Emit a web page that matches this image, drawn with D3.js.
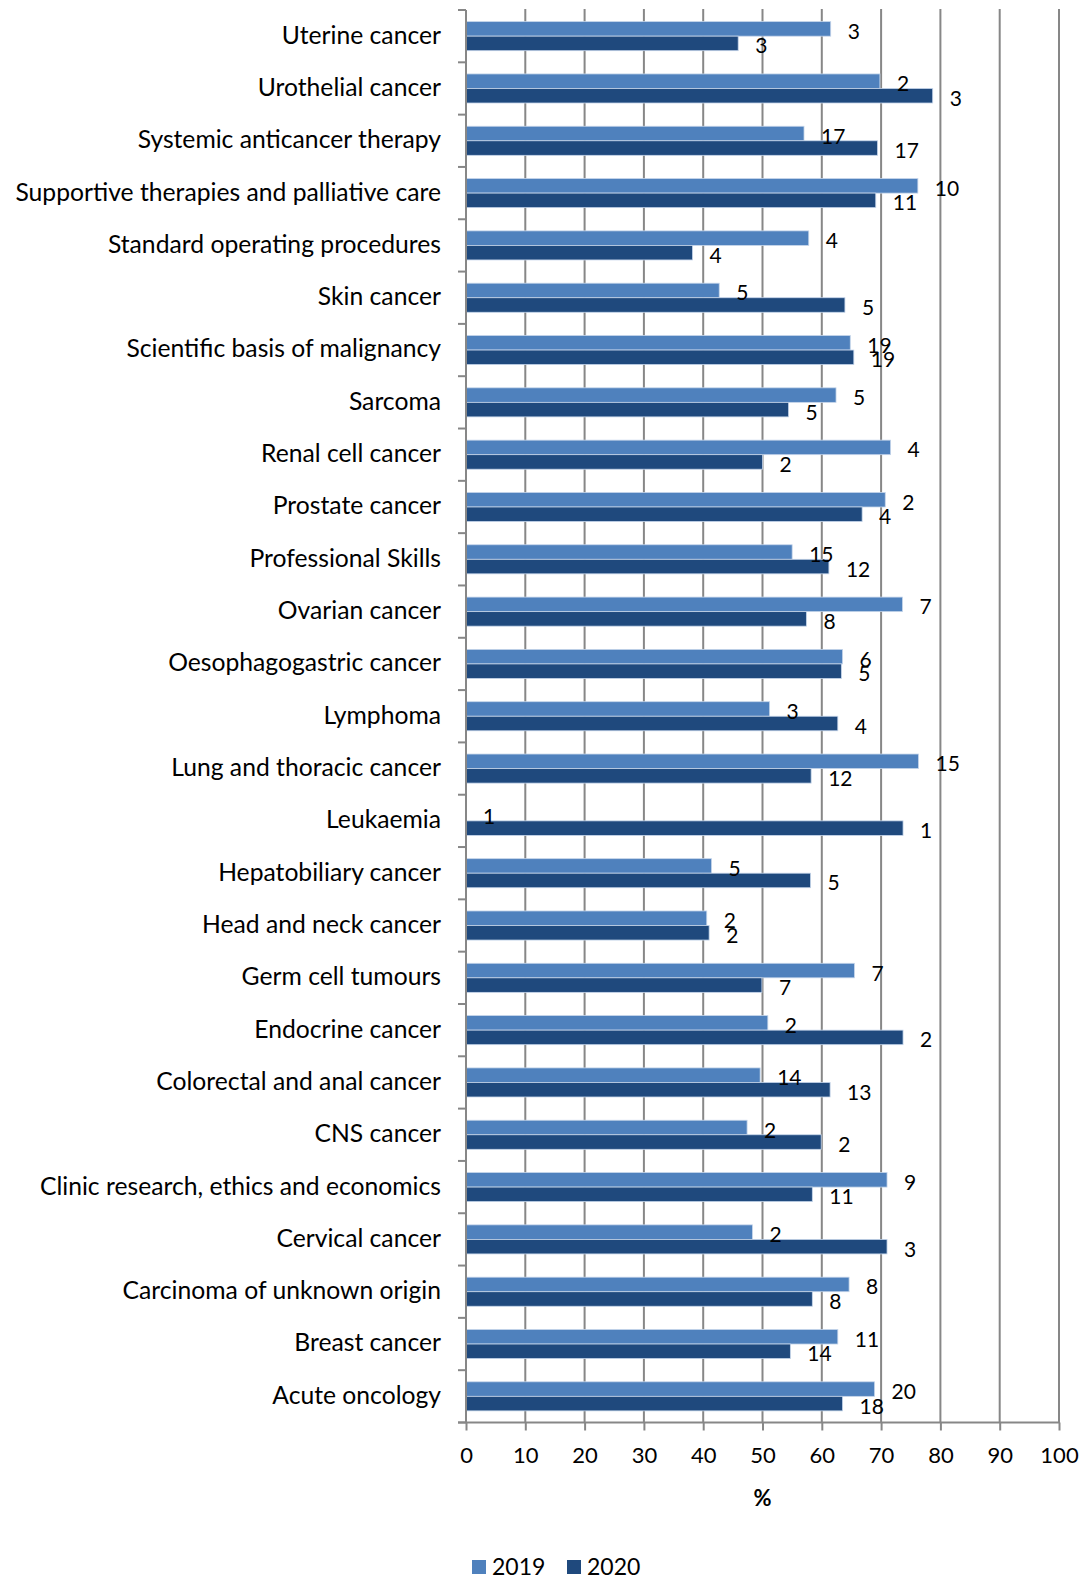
<!DOCTYPE html>
<html>
<head>
<meta charset="utf-8">
<script src="https://cdn.jsdelivr.net/npm/d3@7"></script>
<style>
  html, body { margin: 0; padding: 0; background: #fff; }
  svg { display: block; }
  text { font-family: Lato, "Open Sans", sans-serif; fill: #000; }
</style>
</head>
<body>
<svg id="chart" width="1086" height="1579"></svg>
<script>
const categories = [
  "Uterine cancer", "Urothelial cancer", "Systemic anticancer therapy",
  "Supportive therapies and palliative care", "Standard operating procedures",
  "Skin cancer", "Scientific basis of malignancy", "Sarcoma", "Renal cell cancer",
  "Prostate cancer", "Professional Skills", "Ovarian cancer", "Oesophagogastric cancer",
  "Lymphoma", "Lung and thoracic cancer", "Leukaemia", "Hepatobiliary cancer",
  "Head and neck cancer", "Germ cell tumours", "Endocrine cancer",
  "Colorectal and anal cancer", "CNS cancer", "Clinic research, ethics and economics",
  "Cervical cancer", "Carcinoma of unknown origin", "Breast cancer", "Acute oncology"
];
const seriesNames = ["2019", "2020"];
const values2019 = [61.5, 69.8, 57.0, 76.2, 57.8, 42.7, 64.8, 62.4, 71.6, 70.7, 55.0, 73.6, 63.5,
  51.2, 76.3, 0, 41.4, 40.6, 65.5, 50.9, 49.6, 47.4, 71.0, 48.3, 64.6, 62.7, 68.9];
const values2020 = [45.9, 78.7, 69.4, 69.1, 38.2, 63.9, 65.4, 54.4, 50.0, 66.8, 61.2, 57.4, 63.3,
  62.7, 58.2, 73.7, 58.1, 41.0, 49.9, 73.7, 61.4, 59.9, 58.4, 71.0, 58.4, 54.7, 63.5];
const labels2019 = [3, 2, 17, 10, 4, 5, 19, 5, 4, 2, 15, 7, 6, 3, 15, 1, 5, 2, 7, 2, 14, 2, 9, 2, 8, 11, 20];
const labels2020 = [3, 3, 17, 11, 4, 5, 19, 5, 2, 4, 12, 8, 5, 4, 12, 1, 5, 2, 7, 2, 13, 2, 11, 3, 8, 14, 18];
const xTicks = [0, 10, 20, 30, 40, 50, 60, 70, 80, 90, 100];
const xAxisTitle = "%";
const colors = ["#4F81BD", "#1F497D"];

(function () {
const svg = d3.select("#chart");
const pLeft = 466, pRight = 1059, pTop = 10, pBottom = 1422.5;
const gridColor = "#878787";

const x = d3.scaleLinear().domain([0, 100]).range([pLeft, pRight]);
const y = d3.scaleBand().domain(categories).range([pTop, pBottom]).padding(0);
const gap = y.bandwidth() * 0.8 / 1.8;
const y1 = d3.scaleBand().domain(seriesNames).range([gap / 2, y.bandwidth() - gap / 2]).padding(0);

const rows = categories.map((c, i) => ({
  cat: c,
  vals: [
    { s: "2019", v: values2019[i], n: labels2019[i] },
    { s: "2020", v: values2020[i], n: labels2020[i] }
  ]
}));

// vertical gridlines
svg.append("g").selectAll("line").data(xTicks.slice(1)).join("line")
  .attr("x1", d => x(d)).attr("x2", d => x(d))
  .attr("y1", pTop - 1).attr("y2", pBottom)
  .attr("stroke", gridColor).attr("stroke-width", 2);

// bars
const g = svg.append("g").selectAll("g").data(rows).join("g")
  .attr("transform", d => `translate(0,${y(d.cat)})`);
g.selectAll("rect").data(d => d.vals).join("rect")
  .attr("x", x(0))
  .attr("y", d => y1(d.s))
  .attr("width", d => x(d.v) - x(0))
  .attr("height", y1.bandwidth())
  .attr("fill", (d, i) => colors[i])
  .attr("stroke", d => d.v > 0 ? "#c5d5ea" : "none")
  .attr("stroke-width", 0.8);
g.selectAll("text").data(d => d.vals).join("text")
  .attr("x", d => x(d.v) + 17)
  .attr("y", d => y1(d.s) + y1.bandwidth() / 2 + 1.5)
  .attr("dominant-baseline", "central")
  .attr("font-size", 21)
  .text(d => d.n);

// y axis
const yAxis = d3.axisLeft(y).tickSize(0).tickPadding(25);
const yg = svg.append("g").attr("transform", `translate(${pLeft},0)`).call(yAxis);
yg.select(".domain").remove();
yg.selectAll("text").attr("font-size", 24.7).attr("font-family", "Lato").attr("fill", "#000")
  .attr("dy", "0.3em");
svg.append("line").attr("x1", pLeft).attr("x2", pLeft).attr("y1", pTop).attr("y2", pBottom)
  .attr("stroke", gridColor).attr("stroke-width", 2);
// category boundary ticks
const bounds = categories.map(c => y(c)).concat([pBottom]);
svg.append("g").selectAll("line").data(bounds).join("line")
  .attr("x1", pLeft - 8).attr("x2", pLeft).attr("y1", d => d).attr("y2", d => d)
  .attr("stroke", gridColor).attr("stroke-width", 2);

// x axis
const xAxis = d3.axisBottom(x).tickValues(xTicks).tickSize(8).tickPadding(17);
const xg = svg.append("g").attr("transform", `translate(0,${pBottom})`).call(xAxis);
xg.select(".domain").attr("stroke", gridColor).attr("stroke-width", 2)
  .attr("d", `M${pLeft - 8},0H${pRight + 1}`);
xg.selectAll(".tick line").attr("stroke", gridColor).attr("stroke-width", 2);
xg.selectAll("text").attr("font-size", 22).attr("font-family", "Lato").attr("fill", "#000");

svg.append("text").attr("x", (pLeft + pRight) / 2).attr("y", 1497)
  .attr("text-anchor", "middle").attr("dominant-baseline", "central")
  .attr("font-size", 22).attr("font-weight", "bold").text(xAxisTitle);

// legend
const legend = svg.append("g");
const legendItems = [{ name: seriesNames[0], x: 472 }, { name: seriesNames[1], x: 567 }];
legendItems.forEach((d, i) => {
  legend.append("rect").attr("x", d.x).attr("y", 1560).attr("width", 14).attr("height", 14)
    .attr("fill", colors[i]);
  legend.append("text").attr("x", d.x + 20).attr("y", 1566).attr("dominant-baseline", "central")
    .attr("font-size", 23).text(d.name);
});
})();
</script>
</body>
</html>
